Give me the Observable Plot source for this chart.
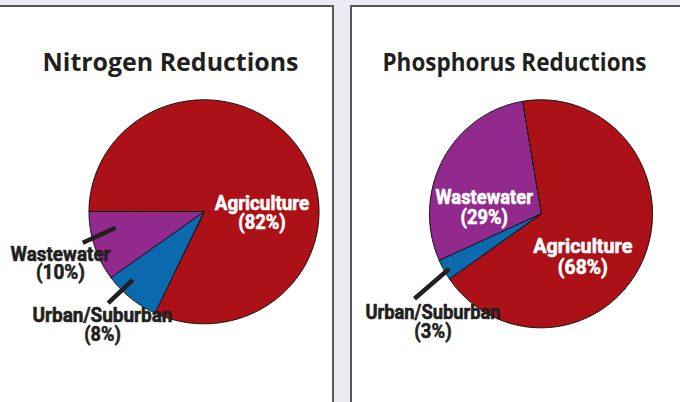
<!DOCTYPE html>
<html>
<head>
<meta charset="utf-8">
<script src="https://cdn.jsdelivr.net/npm/d3@7"></script>
<script src="https://cdn.jsdelivr.net/npm/@observablehq/plot@0.6"></script>
<style>
  html, body { margin: 0; padding: 0; }
  body { width: 680px; height: 402px; overflow: hidden; background: #ecebf4; position: relative; }
  .panel { position: absolute; background: #fff; box-sizing: border-box; border: 2px solid #58595b; }
  #chart { position: absolute; left: 0; top: 0; }
</style>
</head>
<body>
<div class="panel" style="left:-2px; top:5px; width:336px; height:420px; border-left:2px solid #d8d8de;"></div>
<div class="panel" style="left:350px; top:5px; width:360px; height:420px;"></div>
<div id="chart"></div>
<script>
// ---- data ----
const chartTitles = ["Nitrogen Reductions", "Phosphorus Reductions"];
const sources = ["Agriculture", "Urban/Suburban", "Wastewater"];
const nitrogenPct = [82, 8, 10];
const phosphorusPct = [68, 3, 29];

// ---- styles ----
const sliceColors = ["#ab1116", "#0b69ad", "#922a8e"];
const darkText = "#231f20";
const labelFont = "Roboto, 'Liberation Sans', sans-serif";
const titleFont = "'Open Sans', 'Liberation Sans', sans-serif";
const labelSize = 20;

// ---- layout (pixel positions and fitted text widths) ----
const pieLayout = [
  {cx: 203.5, cy: 211.3, rx: 115, ry: 112, startDeg: 270, titleX: 170, titleY: 70, titleW: 256},
  {cx: 540.5, cy: 213.3, rx: 111.5, ry: 114, startDeg: 350.3, titleX: 514, titleY: 70, titleW: 264}
];
// per pie, per source: label centre x, baselines of both lines, fitted widths, inside?, leader line
const labelLayout = [
  [
    {x: 261.5, y1: 209, y2: 228.5, w1: 94.5, w2: 47.5, inside: true},
    {x: 102, y1: 321.7, y2: 340, w1: 140, w2: 36.5, inside: false, leader: [107.7, 302.7, 132.3, 279.3]},
    {x: 60, y1: 260, y2: 278.5, w1: 100, w2: 49, inside: false, leader: [82.3, 242.3, 115, 227.3]}
  ],
  [
    {x: 582.3, y1: 252.3, y2: 273.5, w1: 99, w2: 50, inside: true},
    {x: 432.5, y1: 318.3, y2: 337.5, w1: 135, w2: 37.3, inside: false, leader: [414, 298.3, 448.7, 268.3]},
    {x: 483.7, y1: 203.3, y2: 223, w1: 97.3, w2: 47.3, inside: true}
  ]
];

const series = [nitrogenPct, phosphorusPct];

// ---- build slice polygons from the data via d3.pie ----
const polys = [];
series.forEach((values, p) => {
  const L = pieLayout[p];
  const s = L.startDeg * Math.PI / 180;
  const arcs = d3.pie().sort(null).startAngle(s).endAngle(s + 2 * Math.PI)(values);
  arcs.forEach((a, i) => {
    const key = p + "-" + i;
    polys.push({key, x: L.cx, y: L.cy, fill: sliceColors[i]});
    const n = Math.max(2, Math.ceil((a.endAngle - a.startAngle) * 180 / Math.PI));
    for (let k = 0; k <= n; k++) {
      const t = a.startAngle + (a.endAngle - a.startAngle) * k / n;
      polys.push({key, x: L.cx + L.rx * Math.sin(t), y: L.cy - L.ry * Math.cos(t), fill: sliceColors[i]});
    }
  });
});

const labels = [];
const leaders = [];
series.forEach((values, p) => {
  values.forEach((v, i) => {
    const LL = labelLayout[p][i];
    labels.push({
      x: LL.x, y: LL.y2,
      text: `${sources[i]}\n(${v}%)`,
      color: LL.inside ? "#ffffff" : darkText,
      lineHeight: (LL.y2 - LL.y1) / labelSize,
      widths: [LL.w1, LL.w2]
    });
    if (LL.leader) leaders.push({x1: LL.leader[0], y1: LL.leader[1], x2: LL.leader[2], y2: LL.leader[3]});
  });
});

const titles = chartTitles.map((t, p) => ({x: pieLayout[p].titleX, y: pieLayout[p].titleY, text: t, w: pieLayout[p].titleW}));

const plot = Plot.plot({
  width: 680,
  height: 402,
  margin: 0,
  x: {domain: [0, 680], range: [0, 680], axis: null},
  y: {domain: [0, 402], range: [0, 402], axis: null},
  color: {type: "identity"},
  style: {background: "transparent", overflow: "visible"},
  marks: [
    Plot.line(polys, {x: "x", y: "y", z: "key", fill: "fill", stroke: "#111", strokeWidth: 1, curve: "linear-closed"}),
    Plot.link(leaders, {x1: "x1", y1: "y1", x2: "x2", y2: "y2", stroke: darkText, strokeWidth: 4.5, strokeLinecap: "butt"}),
    Plot.text(titles, {x: "x", y: "y", text: "text", fill: darkText, fontSize: 25, fontWeight: "bold", fontFamily: titleFont, lineAnchor: "bottom", textAnchor: "middle"}),
    ...labels.map(l => Plot.text([l], {x: "x", y: "y", text: "text", fill: "color", stroke: "color", strokeWidth: 0.6, fontSize: labelSize, fontWeight: "bold", fontFamily: labelFont, lineAnchor: "bottom", textAnchor: "middle", lineHeight: l.lineHeight}))
  ]
});
document.getElementById("chart").appendChild(plot);

// fit text widths to the condensed lettering of the original
const textGroups = plot.querySelectorAll('g[aria-label="text"]');
const fit = (el, w) => { el.setAttribute("textLength", w); el.setAttribute("lengthAdjust", "spacingAndGlyphs"); };
if (textGroups[0]) textGroups[0].querySelectorAll("text").forEach((el, i) => titles[i] && fit(el, titles[i].w));
labels.forEach((l, j) => {
  const g = textGroups[j + 1];
  if (!g) return;
  const spans = g.querySelectorAll("tspan");
  if (spans.length) spans.forEach((el, i) => l.widths[i] && fit(el, l.widths[i]));
  else g.querySelectorAll("text").forEach(el => fit(el, l.widths[0]));
});
</script>
</body>
</html>
